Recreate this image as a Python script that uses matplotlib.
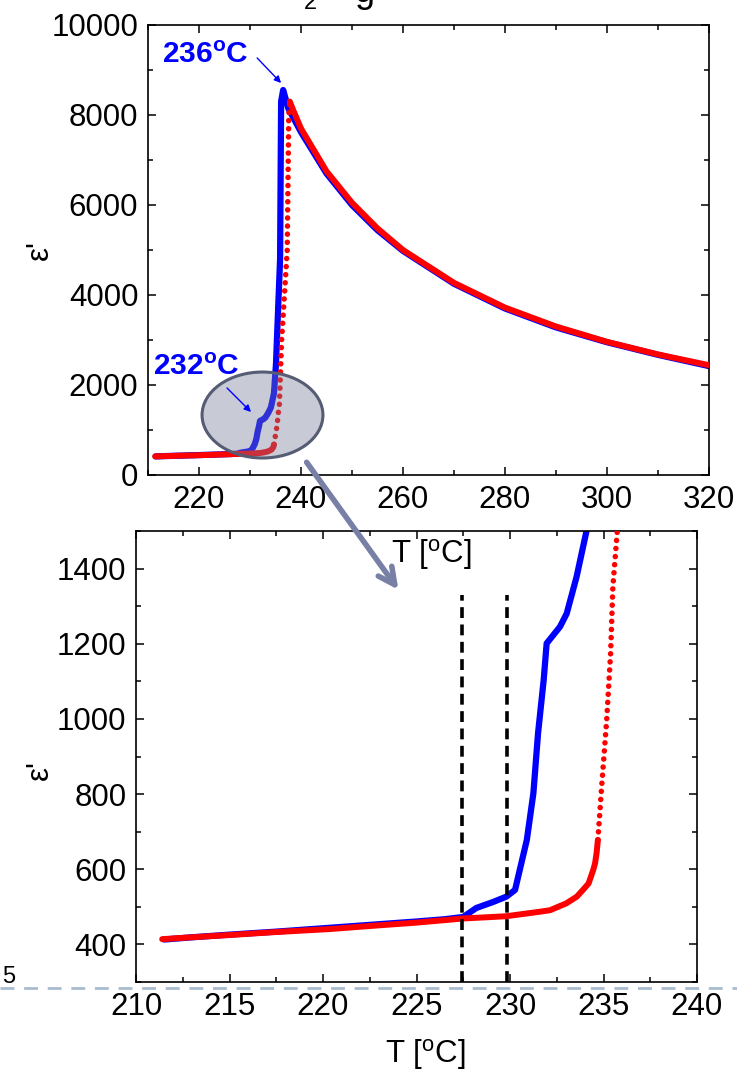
import numpy as np
import matplotlib
matplotlib.use("Agg")
import matplotlib.pyplot as plt
from matplotlib.patches import Ellipse
from matplotlib.ticker import MultipleLocator

plt.rcParams['font.family'] = ['Liberation Sans', 'DejaVu Sans']
plt.rcParams['mathtext.fontset'] = 'custom'
plt.rcParams['mathtext.rm'] = 'Liberation Sans'
plt.rcParams['mathtext.it'] = 'Liberation Sans:italic'
plt.rcParams['mathtext.bf'] = 'Liberation Sans:bold'

# ---------------- data ----------------
blue_T = [211.5, 213, 215, 217.5, 220, 222.5, 225, 226.5, 227.5, 228.2, 229.1, 229.8,
          230.27, 230.9, 231.25, 231.5, 231.8, 231.96, 232.67, 233.03, 233.56, 234.1,
          234.7, 235.1, 235.35, 235.9, 236.1, 236.5, 237.5, 240, 245, 250, 255, 260,
          270, 280, 290, 300, 310, 320]
blue_eps = [413, 419, 426, 434, 443, 452, 461, 467, 473, 497, 513, 527,
            545, 678, 802, 962, 1103, 1201, 1245, 1280, 1378, 1502,
            1815, 2480, 3220, 4800, 8300, 8555, 8150, 7620, 6700, 6000, 5440, 4980,
            4250, 3700, 3280, 2950, 2670, 2420]

red_T = [211.4, 213, 215, 217.5, 220.4, 222.5, 225, 227.5, 229.8, 231.6, 232.14, 233.0,
         233.57, 233.9, 234.2, 234.45, 234.55, 234.63, 234.7, 234.9, 235.17, 235.38,
         235.5, 235.74, 236.2, 237.3, 237.6, 237.8, 238.5, 240, 245, 250, 255, 260,
         270, 280, 290, 300, 310, 320]
red_eps = [414, 419, 425, 433, 441, 449, 458, 469, 475, 487, 491, 509,
           527, 545, 562, 598, 616, 643, 678, 819, 997, 1174,
           1351, 1502, 3000, 5000, 8000, 8300, 8100, 7700, 6750, 6050, 5480, 5000,
           4270, 3720, 3300, 2960, 2680, 2440]

dashed_T = [227.45, 229.85]
top_xticks = [220, 240, 260, 280, 300, 320]
top_yticks = [0, 2000, 4000, 6000, 8000, 10000]
bot_xticks = [210, 215, 220, 225, 230, 235, 240]
bot_yticks = [400, 600, 800, 1000, 1200, 1400]

blue_T = np.array(blue_T); blue_eps = np.array(blue_eps)
red_T = np.array(red_T); red_eps = np.array(red_eps)

W, H = 737, 1076
fig = plt.figure(figsize=(W / 100, H / 100), dpi=100)

BLUE = '#0000ff'
RED = '#ff0000'
FS = 22.5


def px_axes(l, t, r, b):
    return fig.add_axes([l / W, 1 - b / H, (r - l) / W, (b - t) / H])


def style_axes(ax):
    for s in ax.spines.values():
        s.set_linewidth(1.2)
    ax.tick_params(which='both', direction='in', top=True, right=True,
                   labelsize=FS, width=1.1, pad=7)
    ax.tick_params(which='major', length=6)
    ax.tick_params(which='minor', length=3.3)


def draw_red(ax):
    steep = (red_eps > 660) & (red_T < 237.8)
    idx = np.where(steep)[0]
    i0, i1 = idx[0], idx[-1]
    ax.plot(red_T[:i0 + 1], red_eps[:i0 + 1], color=RED, lw=4.3,
            solid_capstyle='round', zorder=3)
    ax.plot(red_T[i0:i1 + 2], red_eps[i0:i1 + 2], color=RED, lw=4.0,
            linestyle=(0, (0.01, 1.45)), dash_capstyle='round', zorder=3)
    ax.plot(red_T[i1 + 1:], red_eps[i1 + 1:], color=RED, lw=4.3,
            solid_capstyle='round', zorder=3)


# ---------------- top panel ----------------
ax1 = px_axes(148, 25, 709, 475)
ax1.plot(blue_T, blue_eps, color=BLUE, lw=4.5, solid_capstyle='round', zorder=2)
draw_red(ax1)
ax1.set_xlim(210, 320)
ax1.set_ylim(0, 10000)
ax1.set_xticks(top_xticks)
ax1.set_yticks(top_yticks)
ax1.xaxis.set_minor_locator(MultipleLocator(10))
ax1.yaxis.set_minor_locator(MultipleLocator(1000))
style_axes(ax1)

ell = Ellipse((232.45, 1333), 23.7, 1911, facecolor=(118 / 255, 125 / 255, 150 / 255, 0.4),
              edgecolor='#555c73', lw=2.2, zorder=5)
ax1.add_patch(ell)

ax1.text(212.7, 9155, r'236$^{\mathbf{o}}$C', color=BLUE, fontsize=21.5, fontweight='bold',
         ha='left', va='baseline', zorder=6)
ax1.text(211.0, 2222, r'232$^{\mathbf{o}}$C', color=BLUE, fontsize=21.5, fontweight='bold',
         ha='left', va='baseline', zorder=6)
ax1.annotate('', xy=(236.1, 8711), xytext=(231.4, 9267),
             arrowprops=dict(arrowstyle='-|>', color=BLUE, lw=1.0,
                             mutation_scale=10, shrinkA=0, shrinkB=0), zorder=6)
ax1.annotate('', xy=(230.2, 1400), xytext=(225.5, 1933),
             arrowprops=dict(arrowstyle='-|>', color=BLUE, lw=1.0,
                             mutation_scale=10, shrinkA=0, shrinkB=0), zorder=6)

# ---------------- bottom panel ----------------
ax2 = px_axes(136, 531, 697, 982)
ax2.plot(blue_T, blue_eps, color=BLUE, lw=4.5, solid_capstyle='round', zorder=2)
draw_red(ax2)
for t in dashed_T:
    ax2.plot([t, t], [300, 1330], color='black', lw=2.6, linestyle=(0, (3.0, 1.8)), zorder=4)
ax2.set_xlim(210, 240)
ax2.set_ylim(300, 1500)
ax2.set_xticks(bot_xticks)
ax2.set_yticks(bot_yticks)
ax2.xaxis.set_minor_locator(MultipleLocator(2.5))
ax2.yaxis.set_minor_locator(MultipleLocator(100))
style_axes(ax2)

# ---------------- labels ----------------
fig.text(431 / W, 1 - 555 / H, r'T [$^{\mathrm{o}}$C]', fontsize=FS, ha='center', va='center')
fig.text(425 / W, 1 - 1055 / H, r'T [$^{\mathrm{o}}$C]', fontsize=FS, ha='center', va='center')
fig.text(40 / W, 1 - 250 / H, "ε'", fontsize=FS, rotation=90, ha='center', va='center')
fig.text(40 / W, 1 - 770 / H, "ε'", fontsize=FS, rotation=90, ha='center', va='center')

# big grey-blue arrow from the ellipse to the zoomed panel
fig.add_artist(matplotlib.patches.FancyArrowPatch(
    (305 / W, 1 - 460 / H), (400 / W, 1 - 592 / H), transform=fig.transFigure,
    arrowstyle='->', mutation_scale=30, color='#7880a6', lw=4.0, zorder=10))

# page artefacts: dashed separator and page number, cut title
fig.add_artist(matplotlib.lines.Line2D([0, 1], [1 - 988 / H, 1 - 988 / H],
                                       transform=fig.transFigure, color='#a9bccf',
                                       lw=2.0, linestyle=(0, (5, 3.5)), zorder=0))
fig.text(2 / W, 1 - 983 / H, '5', fontsize=17, ha='left', va='baseline')
fig.text(304 / W, 1 - 9 / H, '2', fontsize=17, ha='left', va='baseline')
fig.text(355 / W, 1 - 2 / H, 'g', fontsize=26, ha='left', va='baseline')

fig.savefig('out.png', dpi=100)
